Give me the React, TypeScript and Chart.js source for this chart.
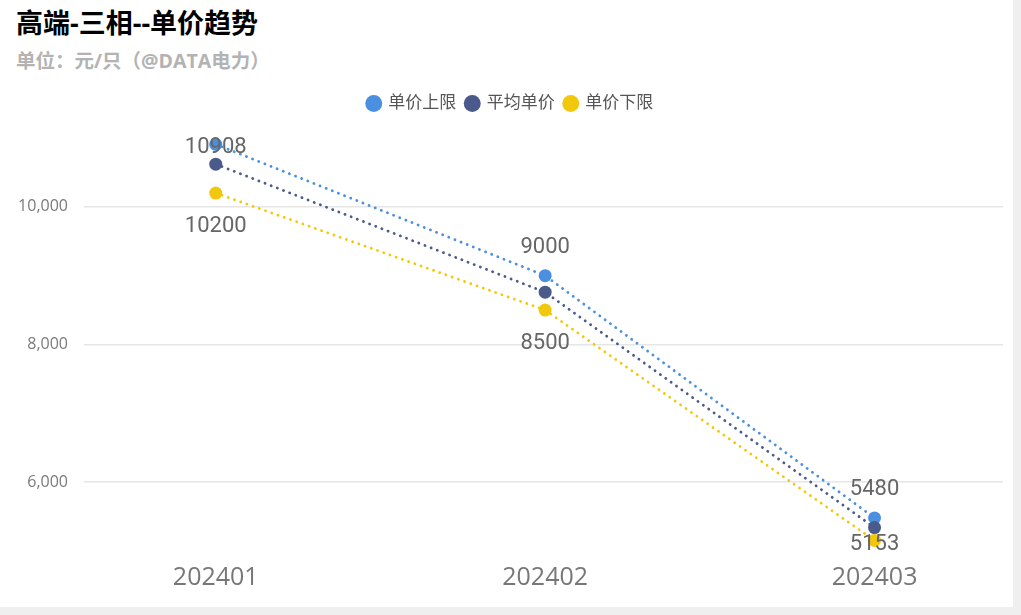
import { useEffect, useRef } from 'react';
import { Chart, registerables } from 'chart.js';

Chart.register(...registerables);

const periods = ['202401', '202402', '202403'];
const upperPrice = [10908, 9000, 5480];
const avgPrice = [10620, 8760, 5340];
const lowerPrice = [10200, 8500, 5153];
const yTicks = [6000, 8000, 10000];

const seriesNames = ['单价上限', '平均单价', '单价下限'];
const seriesColors = ['#4a8fe0', '#4a5a8a', '#f2c80f'];

const FONT = '"Open Sans", "Noto Sans CJK SC", sans-serif';

// labels above the upper series, below the lower one, kept inside the plot area
const valueLabels = {
  id: 'valueLabels',
  afterDatasetsDraw(chart: any) {
    const { ctx, chartArea } = chart;
    ctx.save();
    ctx.font = '22px Roboto, "Open Sans", sans-serif';
    ctx.fillStyle = '#666666';
    ctx.textAlign = 'center';
    ctx.textBaseline = 'middle';
    chart.data.datasets.forEach((ds: any, di: number) => {
      if (!ds.labelPos) return;
      const meta = chart.getDatasetMeta(di);
      meta.data.forEach((pt: any, i: number) => {
        let y = ds.labelPos === 'above' ? pt.y - 28 : pt.y + 33;
        y = Math.max(chartArea.top + 9, Math.min(chartArea.bottom - 7, y));
        ctx.fillText(String(ds.data[i].y), pt.x, y);
      });
    });
    ctx.restore();
  },
};

// extra space under the legend
const legendSpace = {
  id: 'legendSpace',
  beforeInit(chart: any) {
    const fit = chart.legend.fit;
    chart.legend.fit = function () {
      fit.bind(chart.legend)();
      this.height += 16;
    };
  },
};

const App = () => {
  const ref = useRef<HTMLCanvasElement>(null);

  useEffect(() => {
    if (!ref.current) return;
    const values = [upperPrice, avgPrice, lowerPrice];
    const labelPos = ['above', null, 'below'];
    const chart = new Chart(ref.current, {
      type: 'line',
      data: {
        datasets: values.map((arr, k) => ({
          label: seriesNames[k],
          data: arr.map((v, i) => ({ x: i, y: v })),
          borderColor: seriesColors[k],
          backgroundColor: seriesColors[k],
          pointBackgroundColor: seriesColors[k],
          pointBorderWidth: 0,
          pointRadius: 6.5,
          borderWidth: 2.8,
          borderDash: [0.1, 6.5],
          borderCapStyle: 'round',
          fill: false,
          order: 3 - k,
          labelPos: labelPos[k],
        })) as any,
      },
      options: {
        animation: false,
        responsive: false,
        layout: { padding: { top: 85, left: 18, right: 10, bottom: 10 } },
        plugins: {
          tooltip: { enabled: false },
          legend: {
            position: 'top',
            align: 'center',
            labels: {
              usePointStyle: true,
              pointStyle: 'circle',
              boxHeight: 12,
              boxWidth: 12,
              padding: 10,
              color: '#555555',
              font: { size: 17, family: FONT },
              sort: (a: any, b: any) => a.datasetIndex - b.datasetIndex,
            },
          },
        },
        scales: {
          x: {
            type: 'linear',
            min: -0.4,
            max: 2.39,
            grid: { display: false },
            border: { display: false },
            afterBuildTicks: (axis: any) => {
              axis.ticks = periods.map((_, i) => ({ value: i }));
            },
            ticks: {
              color: '#777777',
              font: { size: 25, family: FONT },
              padding: 4,
              maxRotation: 0,
              callback: (v: any) => periods[v as number] ?? '',
            },
          },
          y: {
            min: 5000,
            max: 11000,
            grid: { color: '#e6e6e6', drawTicks: false, lineWidth: 1.5 },
            border: { display: false },
            afterBuildTicks: (axis: any) => {
              axis.ticks = yTicks.map((v) => ({ value: v }));
            },
            afterFit: (axis: any) => {
              axis.width = 66;
            },
            ticks: {
              color: '#7a7a7a',
              padding: 16,
              font: { size: 16, family: FONT },
              callback: (v: any) => Number(v).toLocaleString('en-US'),
            },
          },
        },
      },
      plugins: [valueLabels, legendSpace],
    });
    return () => chart.destroy();
  }, []);

  return (
    <div style={{ position: 'fixed', inset: 0, background: '#efefef' }}>
      <div
        style={{
          position: 'absolute',
          left: 0,
          top: 0,
          width: 1013,
          height: 607,
          background: '#ffffff',
          fontFamily: FONT,
        }}
      >
        <div
          style={{
            position: 'absolute',
            left: 16,
            top: 2,
            fontSize: 27,
            fontWeight: 'bold',
            color: '#000000',
            whiteSpace: 'nowrap',
          }}
        >
          高端-三相--单价趋势
        </div>
        <div
          style={{
            position: 'absolute',
            left: 16,
            top: 45,
            fontSize: 19.5,
            fontWeight: 'bold',
            color: '#b3b3b3',
            whiteSpace: 'nowrap',
          }}
        >
          单位：元/只（@DATA电力）
        </div>
        <canvas
          ref={ref}
          width={1013}
          height={607}
          style={{ position: 'absolute', left: 0, top: 0 }}
        />
      </div>
    </div>
  );
};

export default App;
